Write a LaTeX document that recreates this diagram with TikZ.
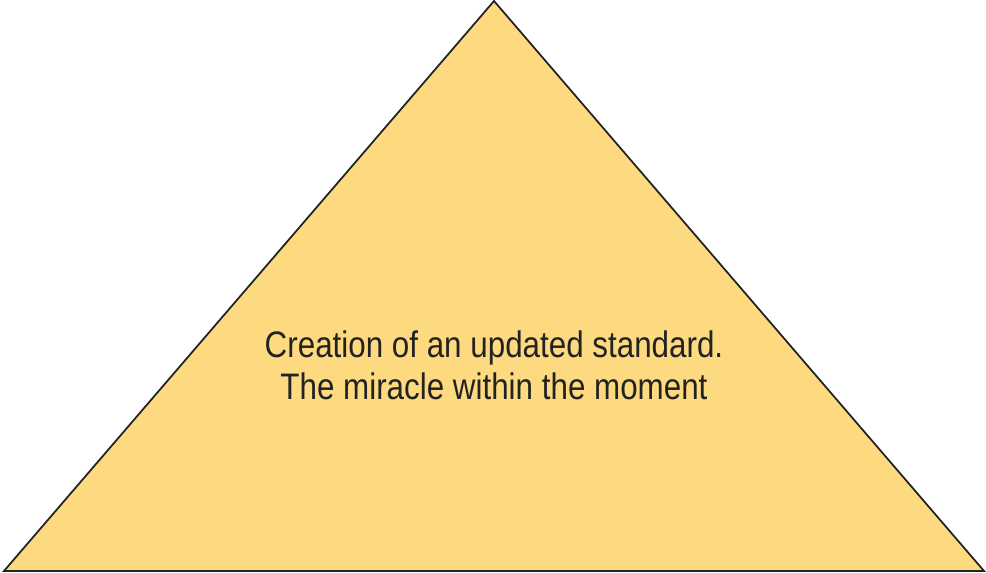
\documentclass[tikz,border=0pt]{standalone}
\usepackage{fontspec}
\setmainfont{Liberation Sans}[FakeStretch=0.85]
\definecolor{pyFill}{HTML}{FDDA80}
\definecolor{pyInk}{HTML}{222222}

\begin{document}
\begin{tikzpicture}[
  x=0.02cm,y=0.02cm,
  font=\fontsize{21}{24}\selectfont,
  every node/.style={text=pyInk,align=center,outer sep=0pt},
  tri/.style={line width=1pt,draw=pyInk,fill=pyFill,line join=miter}
]
\path[use as bounding box] (0,0) rectangle (986,573);
% pyramid
\coordinate (apex) at (494,572);
\coordinate (baseL) at (4,2);
\coordinate (baseR) at (984,2);
\draw[tri] (baseL) -- (apex) -- (baseR) -- cycle;
\node (caption) at (494,208)
  {Creation of an updated standard.\\The miracle within the moment};
\end{tikzpicture}
\end{document}
